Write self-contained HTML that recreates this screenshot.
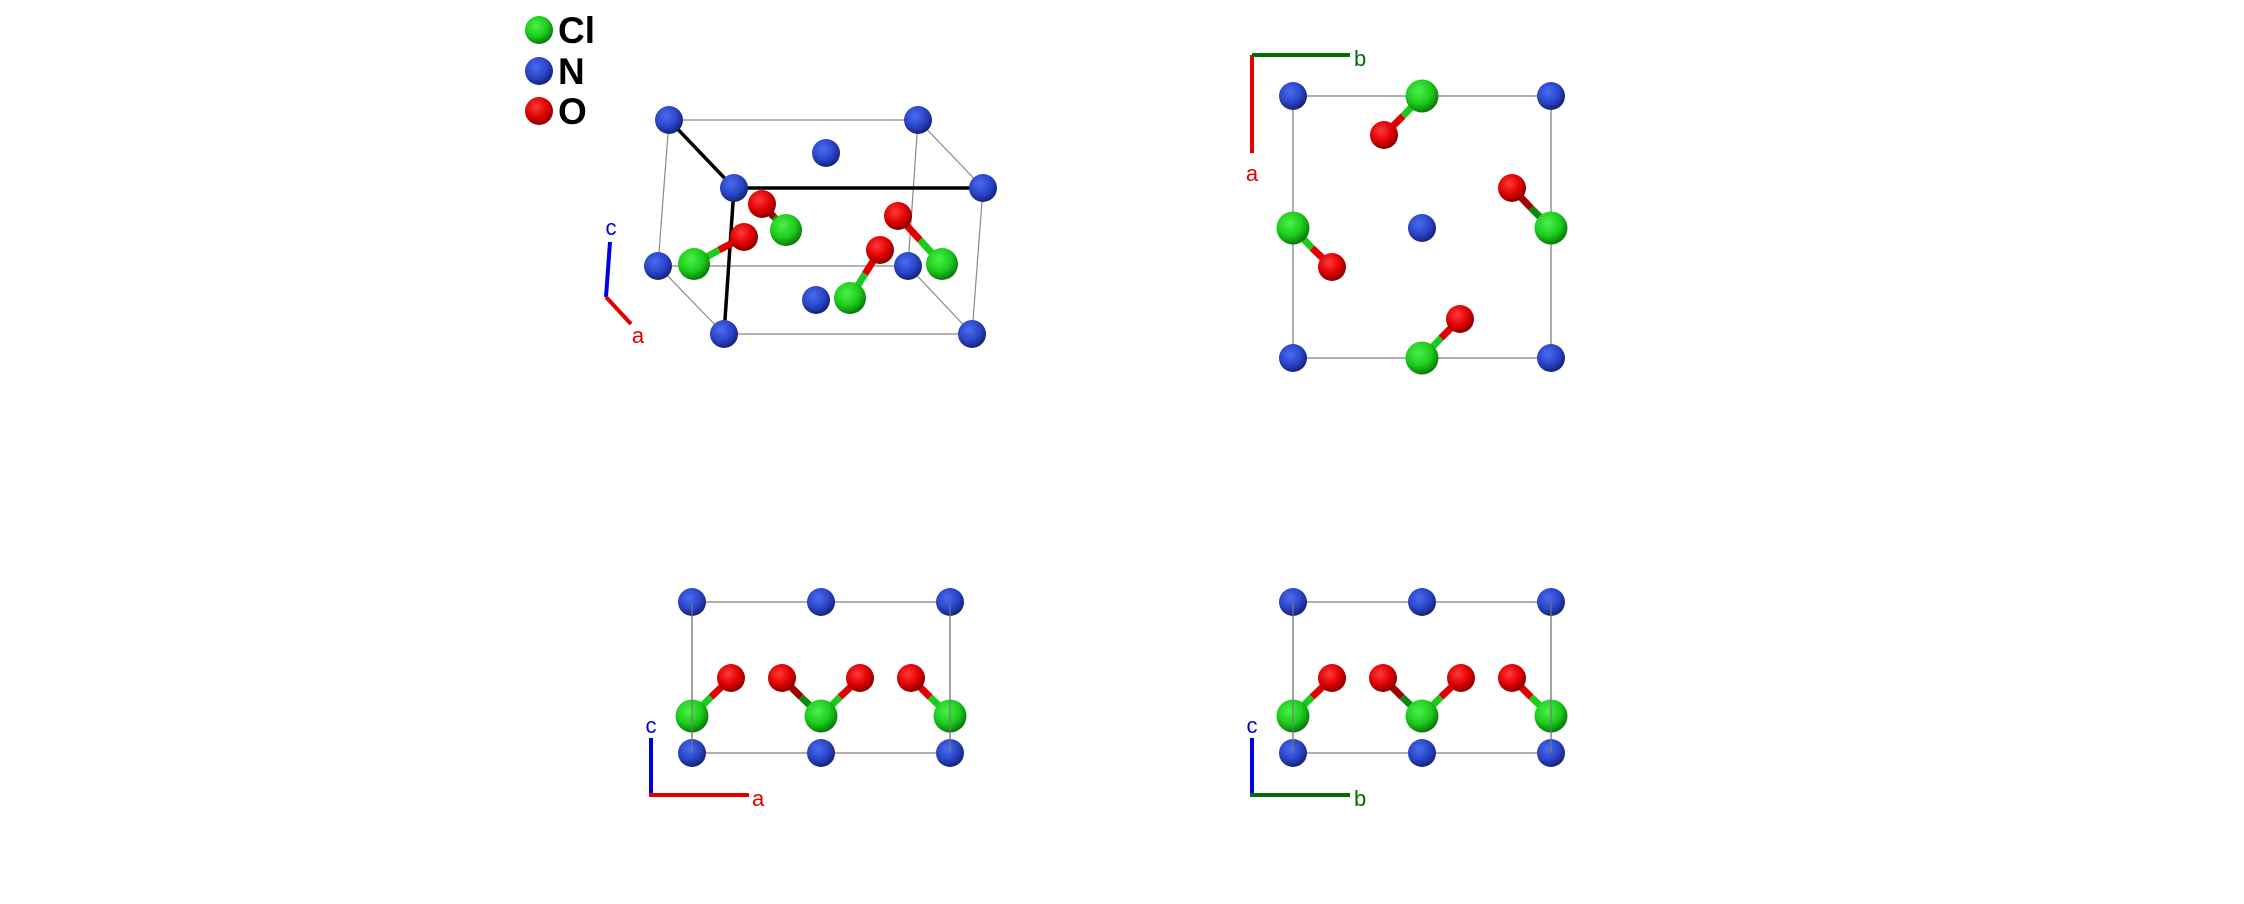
<!DOCTYPE html>
<html><head><meta charset="utf-8"><style>
html,body{margin:0;padding:0;background:#fff;}
svg{display:block;}
text{font-family:"Liberation Sans","DejaVu Sans",sans-serif;}
</style></head><body>
<svg width="2244" height="904" viewBox="0 0 2244 904" xmlns="http://www.w3.org/2000/svg">
<defs>
<radialGradient id="gN" cx="40%" cy="35%" r="65%"><stop offset="0" stop-color="#4a6cf0"/><stop offset="0.6" stop-color="#2a45c8"/><stop offset="1" stop-color="#15237a"/></radialGradient>
<radialGradient id="gCl" cx="40%" cy="35%" r="65%"><stop offset="0" stop-color="#4cf04c"/><stop offset="0.6" stop-color="#1ccc1c"/><stop offset="1" stop-color="#0b7a0b"/></radialGradient>
<radialGradient id="gO" cx="40%" cy="35%" r="65%"><stop offset="0" stop-color="#ff3a3a"/><stop offset="0.6" stop-color="#e00000"/><stop offset="1" stop-color="#8a0000"/></radialGradient>
</defs>

<!-- Legend -->
<circle cx="539" cy="30" r="14" fill="url(#gCl)"/>
<circle cx="539" cy="71" r="14" fill="url(#gN)"/>
<circle cx="539" cy="111" r="14" fill="url(#gO)"/>
<text x="558" y="43" font-size="37" font-weight="bold">Cl</text>
<text x="558" y="84" font-size="37" font-weight="bold">N</text>
<text x="558" y="124" font-size="37" font-weight="bold">O</text>

<!-- 3D panel -->
<g stroke="#888" stroke-width="1.2">
<line x1="669" y1="120" x2="918" y2="120"/><line x1="669" y1="120" x2="658" y2="266"/>
<line x1="918" y1="120" x2="908" y2="266"/><line x1="918" y1="120" x2="983" y2="188"/>
<line x1="658" y1="266" x2="908" y2="266"/><line x1="658" y1="266" x2="724" y2="334"/>
<line x1="908" y1="266" x2="972" y2="334"/><line x1="724" y1="334" x2="972" y2="334"/>
<line x1="983" y1="188" x2="972" y2="334"/>
</g>
<g stroke="#000" stroke-width="3.5">
<line x1="669" y1="120" x2="734" y2="188"/><line x1="734" y1="188" x2="983" y2="188"/><line x1="734" y1="188" x2="724" y2="334"/>
</g>
<circle cx="826" cy="153" r="14" fill="url(#gN)"/>
<circle cx="669" cy="120" r="14" fill="url(#gN)"/>
<circle cx="918" cy="120" r="14" fill="url(#gN)"/>
<circle cx="658" cy="266" r="14" fill="url(#gN)"/>
<circle cx="908" cy="266" r="14" fill="url(#gN)"/>
<circle cx="816" cy="300" r="14" fill="url(#gN)"/>
<g stroke-width="7">
<line x1="762" y1="204" x2="774" y2="217" stroke="#a00000"/><line x1="774" y1="217" x2="786" y2="230" stroke="#0d8a0d"/>
<line x1="744" y1="237" x2="719" y2="250" stroke="#e00000"/><line x1="719" y1="250" x2="694" y2="264" stroke="#1ccc1c"/>
<line x1="898" y1="216" x2="920" y2="240" stroke="#e00000"/><line x1="920" y1="240" x2="942" y2="264" stroke="#1ccc1c"/>
<line x1="880" y1="250" x2="865" y2="274" stroke="#e00000"/><line x1="865" y1="274" x2="850" y2="298" stroke="#1ccc1c"/>
</g>
<circle cx="786" cy="230" r="16" fill="url(#gCl)"/>
<circle cx="762" cy="204" r="14" fill="url(#gO)"/>
<circle cx="734" cy="188" r="14" fill="url(#gN)"/>
<circle cx="983" cy="188" r="14" fill="url(#gN)"/>
<circle cx="744" cy="237" r="14" fill="url(#gO)"/>
<circle cx="694" cy="264" r="16" fill="url(#gCl)"/>
<circle cx="898" cy="216" r="14" fill="url(#gO)"/>
<circle cx="942" cy="264" r="16" fill="url(#gCl)"/>
<circle cx="880" cy="250" r="14" fill="url(#gO)"/>
<circle cx="850" cy="298" r="16" fill="url(#gCl)"/>
<circle cx="724" cy="334" r="14" fill="url(#gN)"/>
<circle cx="972" cy="334" r="14" fill="url(#gN)"/>
<line x1="606" y1="297" x2="610" y2="242" stroke="#0000e0" stroke-width="4"/>
<line x1="606" y1="297" x2="631" y2="324" stroke="#e00000" stroke-width="4"/>
<text x="611" y="235" font-size="22" fill="#0000e0" text-anchor="middle">c</text>
<text x="638" y="343" font-size="22" fill="#e00000" text-anchor="middle">a</text>

<!-- Top-right panel -->
<rect x="1293" y="96" width="258" height="262" fill="none" stroke="#777" stroke-width="1.2"/>
<g stroke-width="7">
<line x1="1422" y1="96" x2="1403" y2="116" stroke="#1ccc1c"/><line x1="1403" y1="116" x2="1384" y2="135" stroke="#e00000"/>
<line x1="1293" y1="228" x2="1312" y2="248" stroke="#1ccc1c"/><line x1="1312" y1="248" x2="1332" y2="267" stroke="#e00000"/>
<line x1="1551" y1="228" x2="1531" y2="208" stroke="#0d8a0d"/><line x1="1531" y1="208" x2="1512" y2="188" stroke="#a00000"/>
<line x1="1422" y1="358" x2="1441" y2="338" stroke="#1ccc1c"/><line x1="1441" y1="338" x2="1460" y2="319" stroke="#e00000"/>
</g>
<circle cx="1293" cy="96" r="14" fill="url(#gN)"/>
<circle cx="1551" cy="96" r="14" fill="url(#gN)"/>
<circle cx="1293" cy="358" r="14" fill="url(#gN)"/>
<circle cx="1551" cy="358" r="14" fill="url(#gN)"/>
<circle cx="1422" cy="228" r="14" fill="url(#gN)"/>
<circle cx="1512" cy="188" r="14" fill="url(#gO)"/>
<circle cx="1422" cy="96" r="16.5" fill="url(#gCl)"/>
<circle cx="1384" cy="135" r="14" fill="url(#gO)"/>
<circle cx="1293" cy="228" r="16.5" fill="url(#gCl)"/>
<circle cx="1332" cy="267" r="14" fill="url(#gO)"/>
<circle cx="1551" cy="228" r="16.5" fill="url(#gCl)"/>
<circle cx="1422" cy="358" r="16.5" fill="url(#gCl)"/>
<circle cx="1460" cy="319" r="14" fill="url(#gO)"/>
<line x1="1252" y1="55" x2="1252" y2="153" stroke="#e00000" stroke-width="4"/>
<line x1="1252" y1="55" x2="1350" y2="55" stroke="#006e00" stroke-width="4"/>
<text x="1354" y="66" font-size="22" fill="#006e00">b</text>
<text x="1252" y="181" font-size="22" fill="#e00000" text-anchor="middle">a</text>

<!-- Bottom-left panel -->
<g id="bl">
<rect x="692" y="602" width="258" height="151" fill="none" stroke="#777" stroke-width="1.2"/>
<g stroke-width="7">
<line x1="692" y1="716" x2="711" y2="697" stroke="#1ccc1c"/><line x1="711" y1="697" x2="731" y2="678" stroke="#e00000"/>
<line x1="821" y1="716" x2="801" y2="697" stroke="#0d8a0d"/><line x1="801" y1="697" x2="782" y2="678" stroke="#a00000"/>
<line x1="821" y1="716" x2="840" y2="697" stroke="#1ccc1c"/><line x1="840" y1="697" x2="860" y2="678" stroke="#e00000"/>
<line x1="950" y1="716" x2="930" y2="697" stroke="#1ccc1c"/><line x1="930" y1="697" x2="911" y2="678" stroke="#e00000"/>
</g>
<circle cx="692" cy="602" r="14" fill="url(#gN)"/><circle cx="821" cy="602" r="14" fill="url(#gN)"/><circle cx="950" cy="602" r="14" fill="url(#gN)"/>
<circle cx="731" cy="678" r="14" fill="url(#gO)"/><circle cx="782" cy="678" r="14" fill="url(#gO)"/><circle cx="860" cy="678" r="14" fill="url(#gO)"/><circle cx="911" cy="678" r="14" fill="url(#gO)"/>
<circle cx="692" cy="716" r="16.5" fill="url(#gCl)"/><circle cx="821" cy="716" r="16.5" fill="url(#gCl)"/><circle cx="950" cy="716" r="16.5" fill="url(#gCl)"/>
<circle cx="692" cy="753" r="14" fill="url(#gN)"/><circle cx="821" cy="753" r="14" fill="url(#gN)"/><circle cx="950" cy="753" r="14" fill="url(#gN)"/>
<line x1="692" y1="602" x2="692" y2="753" stroke="#777" stroke-width="1.2"/>
<line x1="950" y1="602" x2="950" y2="753" stroke="#777" stroke-width="1.2"/>
</g>
<line x1="651" y1="738" x2="651" y2="795" stroke="#0000e0" stroke-width="4"/>
<line x1="649" y1="795" x2="749" y2="795" stroke="#e00000" stroke-width="4"/>
<text x="651" y="733" font-size="22" fill="#0000e0" text-anchor="middle">c</text>
<text x="752" y="806" font-size="22" fill="#e00000">a</text>

<!-- Bottom-right panel -->
<use href="#bl" transform="translate(601,0)"/>
<line x1="1252" y1="738" x2="1252" y2="795" stroke="#0000e0" stroke-width="4"/>
<line x1="1250" y1="795" x2="1350" y2="795" stroke="#006e00" stroke-width="4"/>
<text x="1252" y="733" font-size="22" fill="#0000e0" text-anchor="middle">c</text>
<text x="1354" y="806" font-size="22" fill="#006e00">b</text>
</svg>
</body></html>
